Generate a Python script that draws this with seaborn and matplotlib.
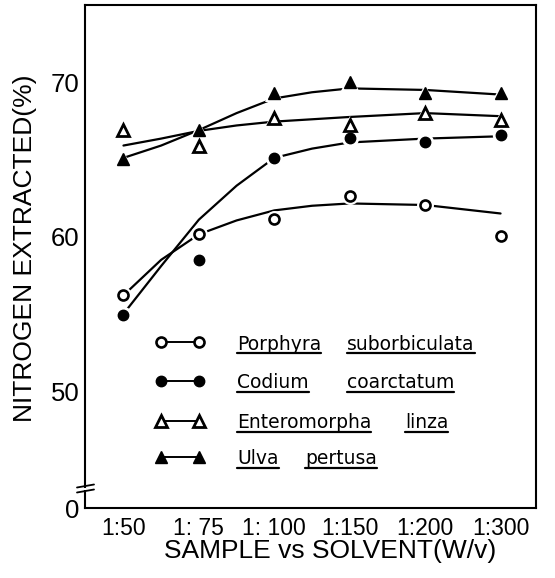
import matplotlib
matplotlib.use("Agg")
import matplotlib.pyplot as plt
from matplotlib.lines import Line2D
import seaborn as sns
import pandas as pd

# ---------------- data ----------------
ratios = ["1:50", "1: 75", "1: 100", "1:150", "1:200", "1:300"]
positions = [0, 1, 2, 3, 4, 5]

porphyra = [56.2, 60.15, 61.15, 62.6, 62.05, 60.05]
codium = [54.9, 58.5, 65.1, 66.4, 66.15, 66.6]
entero = [66.9, 65.9, 67.7, 67.2, 68.0, 67.55]
ulva = [65.0, 66.9, 69.3, 70.0, 69.3, 69.3]

# hand-drawn fitted curves, read at these x positions
curve_pos = [0, 0.5, 1, 1.5, 2, 2.5, 3, 4, 5]
porphyra_fit = [56.2, 58.5, 60.15, 61.05, 61.7, 62.0, 62.15, 62.05, 61.5]
codium_fit = [55.0, 58.1, 61.1, 63.3, 65.1, 65.7, 66.1, 66.35, 66.5]
entero_fit = [65.9, 66.35, 66.85, 67.2, 67.45, 67.6, 67.75, 68.0, 67.8]
ulva_fit = [65.1, 65.9, 66.9, 68.0, 68.95, 69.35, 69.6, 69.5, 69.2]

species = [("Porphyra", "suborbiculata"), ("Codium", "coarctatum"),
           ("Enteromorpha", "linza"), ("Ulva", "pertusa")]

y_ticks = [50, 55, 60, 65, 70]
y_tick_labels = ["50", "", "60", "", "70"]

# ---------------- styling ----------------
sns.set_theme(style="white")
plt.rcParams["font.family"] = ["Liberation Sans", "DejaVu Sans"]

W, H = 555, 578
fig = plt.figure(figsize=(W / 100, H / 100), dpi=100)
ax_l, ax_r, ax_b, ax_t = 85, 536, 508.3, 5
ax = fig.add_axes([ax_l / W, (H - ax_b) / H, (ax_r - ax_l) / W, (ax_b - ax_t) / H])

y_bottom = 42.41
ax.set_xlim(-0.51, 5.47)
ax.set_ylim(y_bottom, 75.0)

styles = [
    dict(marker="o", mfc="white", mec="black", ms=7.2, mew=1.9),
    dict(marker="o", mfc="black", mec="black", ms=7.5, mew=1.0),
    dict(marker="^", mfc="white", mec="black", ms=8.0, mew=2.0),
    dict(marker="^", mfc="black", mec="black", ms=8.5, mew=1.0),
]
points = [porphyra, codium, entero, ulva]
fits = [porphyra_fit, codium_fit, entero_fit, ulva_fit]

# curves
for fit in fits:
    df = pd.DataFrame({"x": curve_pos, "y": fit})
    sns.lineplot(data=df, x="x", y="y", ax=ax, color="black", lw=1.6,
                 sort=False, estimator=None, zorder=2)

# white halos (gaps in the hand-drawn lines around markers)
for pts, st in zip(points, styles):
    ax.plot(positions, pts, ls="none", marker=st["marker"], mfc="white",
            mec="white", ms=st["ms"] + 5, mew=0, zorder=3)
# markers
for pts, st in zip(points, styles):
    ax.plot(positions, pts, ls="none", zorder=4, **st)

# axes styling
for s in ax.spines.values():
    s.set_linewidth(1.5)
    s.set_color("black")
ax.set_xticks(positions)
ax.set_xticklabels(ratios, fontsize=16.5)
ax.set_yticks([y_bottom] + y_ticks)
ax.set_yticklabels(["0"] + y_tick_labels, fontsize=18.5)
ax.tick_params(axis="both", direction="in", length=6, width=1.3, color="black",
               labelcolor="black")
ax.tick_params(axis="x", pad=6)
ax.tick_params(axis="y", pad=4)
ax.yaxis.get_major_ticks()[0].tick1line.set_visible(False)

ax.set_xlabel("SAMPLE vs SOLVENT(W/v)", fontsize=19, color="black")
ax.set_ylabel("NITROGEN EXTRACTED(%)", fontsize=19, color="black")
ax.xaxis.label.set_va("center")
ax.yaxis.label.set_va("center")
ax.xaxis.set_label_coords((330 - ax_l) / (ax_r - ax_l), (ax_b - 551) / (ax_b - ax_t))
ax.yaxis.set_label_coords((25 - ax_l) / (ax_r - ax_l), (ax_b - 248) / (ax_b - ax_t))


def axfrac(px, py):
    return (px - ax_l) / (ax_r - ax_l), (ax_b - py) / (ax_b - ax_t)


# axis break marks
for py in (486, 491):
    (x0, y0), (x1, y1) = axfrac(77, py + 1.5), axfrac(94, py - 1.5)
    ax.plot([x0, x1], [y0, y1], color="black", lw=1.3, transform=ax.transAxes,
            clip_on=False, zorder=6)
(gx0, gy0), (gx1, gy1) = axfrac(84, 487.5), axfrac(84, 490)
ax.plot([gx0, gx1], [gy0, gy1], color="white", lw=3, transform=ax.transAxes,
        clip_on=False, zorder=5, solid_capstyle="butt")

# legend (manual, matching the original layout)
rows_y = [342, 381, 421, 457]
second_x = [347, 347, 405, 305]
texts = []
for (w1, w2), st, ry, sx in zip(species, styles, rows_y, second_x):
    (hx0, hy), (hx1, _) = axfrac(161, ry), axfrac(199, ry)
    ax.plot([hx0, hx1], [hy, hy], color="black", lw=1.4, transform=ax.transAxes,
            zorder=4, **st)
    for word, wx in ((w1, 237), (w2, sx)):
        tx, ty = axfrac(wx, ry)
        t = ax.text(tx, ty, word, transform=ax.transAxes, ha="left",
                    va="center_baseline", fontsize=13.5,
                    family=["DejaVu Sans", "Liberation Sans"], color="black")
        texts.append(t)

fig.canvas.draw()
renderer = fig.canvas.get_renderer()
inv = fig.transFigure.inverted()
for t in texts:
    bb = t.get_window_extent(renderer)
    yline = bb.y0 + 1
    p0 = inv.transform((bb.x0, yline))
    p1 = inv.transform((bb.x1, yline))
    fig.add_artist(Line2D([p0[0], p1[0]], [p0[1], p1[1]], color="black", lw=1.6,
                          transform=fig.transFigure))

fig.savefig("out.png", dpi=100, facecolor="white")
